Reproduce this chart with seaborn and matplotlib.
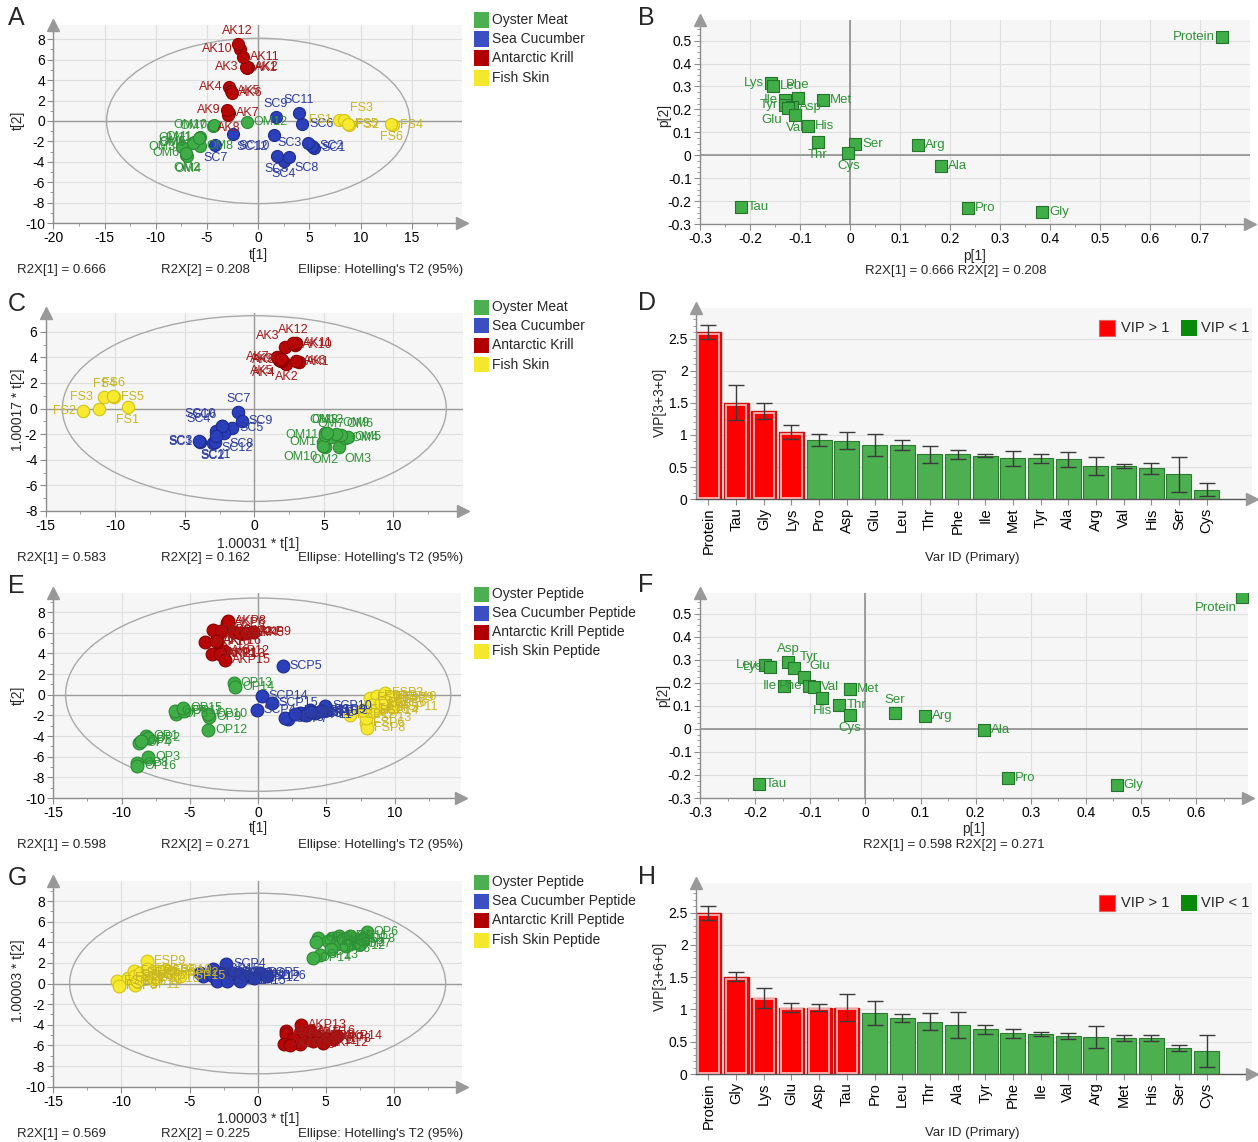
import numpy as np
import pandas as pd
import matplotlib
matplotlib.use('Agg')
import matplotlib.pyplot as plt
import seaborn as sns
from matplotlib.patches import Ellipse, Rectangle
from matplotlib.ticker import MultipleLocator, FuncFormatter, FixedLocator

# ---------------- data ----------------
# Panel A (scores, raw materials)
A_OM_names = [f'OM{i}' for i in range(1, 13)]
A_OM_t1 = [-5.7, -7.0, -7.4, -6.9, -6.3, -7.0, -4.4, -5.7, -6.4, -4.3, -5.8, -1.1]
A_OM_t2 = [-1.6, -3.3, -2.6, -3.4, -2.1, -3.1, -0.5, -2.5, -2.2, -0.4, -1.7, -0.15]
A_SC_names = [f'SC{i}' for i in range(1, 13)]
A_SC_t1 = [5.5, 5.3, 4.9, 2.5, 1.8, 4.3, -4.2, 3.0, 1.7, -2.5, 4.0, 1.5]
A_SC_t2 = [-2.7, -2.5, -2.2, -3.9, -3.4, -0.3, -2.4, -3.5, 0.4, -1.3, 0.8, -1.4]
A_AK_names = [f'AK{i}' for i in range(1, 13)]
A_AK_t1 = [-1.1, -1.0, -1.2, -2.8, -2.7, -2.6, -2.8, -2.9, -3.0, -1.8, -1.5, -2.0]
A_AK_t2 = [5.2, 5.3, 5.3, 3.3, 2.9, 2.7, 0.8, 0.6, 1.1, 7.0, 6.3, 7.5]
A_FS_names = [f'FS{i}' for i in range(1, 7)]
A_FS_t1 = [7.9, 8.9, 8.4, 13.2, 8.8, 13.0]
A_FS_t2 = [0.1, -0.4, 0.1, -0.4, -0.3, -0.3]

# Panel B (loadings, raw materials)
B_vars = ['Protein', 'Lys', 'Leu', 'Phe', 'Ile', 'Tyr', 'Asp', 'Glu', 'Val', 'Met',
          'His', 'Thr', 'Ser', 'Cys', 'Arg', 'Ala', 'Tau', 'Pro', 'Gly']
B_p1 = [0.744, -0.158, -0.154, -0.104, -0.13, -0.13, -0.116, -0.124, -0.11, -0.054,
        -0.084, -0.064, 0.01, -0.003, 0.136, 0.182, -0.218, 0.236, 0.384]
B_p2 = [0.517, 0.316, 0.304, 0.25, 0.243, 0.221, 0.211, 0.205, 0.177, 0.243,
        0.129, 0.058, 0.050, 0.010, 0.043, -0.045, -0.227, -0.231, -0.249]

# Panel C (OPLS-DA scores, raw materials)
C_OM_t1 = [4.95, 5.1, 6.05, 6.5, 6.7, 6.2, 5.5, 5.05, 5.9, 4.95, 5.1, 5.2]
C_OM_t2 = [-2.6, -3.0, -3.0, -2.3, -2.25, -2.1, -2.2, -1.9, -2.0, -2.9, -2.1, -1.9]
C_SC_t1 = [-3.9, -3.0, -3.95, -2.75, -1.6, -2.3, -1.15, -2.2, -0.9, -2.35, -2.8, -2.75]
C_SC_t2 = [-2.6, -2.7, -2.55, -1.75, -1.55, -1.4, -0.3, -1.9, -1.0, -1.35, -2.6, -2.15]
C_AK_t1 = [3.2, 2.3, 2.2, 1.9, 1.8, 3.0, 1.6, 2.0, 1.9, 2.9, 3.0, 2.8]
C_AK_t2 = [3.6, 3.5, 4.8, 3.7, 3.8, 3.7, 4.05, 3.8, 3.9, 5.0, 5.1, 5.1]
C_FS_t1 = [-9.1, -12.3, -11.2, -10.8, -10.1, -10.15]
C_FS_t2 = [0.1, -0.2, 0.0, 0.9, 0.9, 0.95]

# Panel D (VIP, raw materials)
D_vars = ['Protein', 'Tau', 'Gly', 'Lys', 'Pro', 'Asp', 'Glu', 'Leu', 'Thr', 'Phe',
          'Ile', 'Met', 'Tyr', 'Ala', 'Arg', 'Val', 'His', 'Ser', 'Cys']
D_vip = [2.60, 1.50, 1.37, 1.05, 0.92, 0.91, 0.85, 0.84, 0.70, 0.70,
         0.68, 0.64, 0.64, 0.62, 0.52, 0.52, 0.48, 0.39, 0.15]
D_ci = [0.11, 0.27, 0.125, 0.105, 0.095, 0.135, 0.17, 0.08, 0.13, 0.07,
        0.03, 0.115, 0.07, 0.12, 0.14, 0.035, 0.09, 0.275, 0.105]

# Panel E (scores, peptides)
E_OP_names = [f'OP{i}' for i in range(1, 17)]
E_OP_t1 = [-8.2, -8.05, -8.05, -8.7, -6.0, -8.6, -6.1, -8.9, -3.6, -3.65, -5.4, -3.65, -1.8, -1.7, -5.5, -8.85]
E_OP_t2 = [-4.0, -4.2, -6.0, -4.7, -1.9, -4.5, -1.6, -6.6, -2.2, -1.9, -1.6, -3.4, 1.1, 0.7, -1.3, -6.9]
E_SCP_names = [f'SCP{i}' for i in range(1, 17)]
E_SCP_t1 = [3.8, 4.15, 3.3, -0.1, 1.8, 3.05, 2.2, 1.95, 5.0, 4.9, 3.5, 4.6, 2.7, 0.25, 1.0, 3.9]
E_SCP_t2 = [-1.45, -1.8, -1.9, -1.45, 2.8, -1.75, -2.4, -2.25, -1.45, -1.05, -2.0, -1.6, -1.9, -0.15, -0.8, -1.7]
E_AKP_names = [f'AKP{i}' for i in range(1, 17)]
E_AKP_t1 = [-2.9, -1.8, -3.3, -1.3, -0.9, -2.3, -3.05, -2.2, -0.4, -3.9, -3.4, -2.5, -2.8, -2.7, -2.45, -3.1]
E_AKP_t2 = [4.0, 6.1, 6.3, 6.0, 6.0, 6.9, 5.2, 7.1, 6.1, 5.1, 3.95, 4.2, 3.95, 6.2, 3.4, 5.2]
E_FSP_names = [f'FSP{i}' for i in range(1, 17)]
E_FSP_t1 = [8.2, 8.7, 9.3, 8.3, 8.9, 7.9, 9.5, 7.95, 10.0, 9.7, 9.9, 6.7, 7.9, 8.4, 7.7, 9.0]
E_FSP_t2 = [-0.3, -0.15, 0.15, -1.0, -1.3, -2.7, -0.5, -3.2, -0.3, -0.2, -1.2, -1.95, -2.25, -1.6, -1.45, -0.8]

# Panel F (loadings, peptides)
F_vars = ['Protein', 'Leu', 'Lys', 'Asp', 'Tyr', 'Glu', 'Ile', 'Phe', 'Val', 'His',
          'Met', 'Thr', 'Cys', 'Ser', 'Arg', 'Ala', 'Pro', 'Gly', 'Tau']
F_p1 = [0.683, -0.182, -0.173, -0.14, -0.129, -0.111, -0.148, -0.102, -0.094, -0.078,
        -0.028, -0.047, -0.028, 0.053, 0.108, 0.216, 0.258, 0.456, -0.193]
F_p2 = [0.573, 0.279, 0.27, 0.29, 0.264, 0.224, 0.186, 0.187, 0.18, 0.134,
        0.175, 0.104, 0.059, 0.071, 0.056, -0.006, -0.213, -0.242, -0.238]

# Panel G (OPLS-DA scores, peptides)
G_OP_t1 = [4.45, 7.0, 5.55, 6.0, 5.8, 8.0, 7.5, 7.75, 6.3, 5.2, 6.75, 6.5, 4.55, 4.05, 4.3, 5.4]
G_OP_t2 = [4.45, 3.95, 4.45, 4.6, 3.8, 4.95, 3.8, 4.3, 4.3, 4.1, 4.6, 3.65, 2.8, 2.5, 4.0, 3.3]
G_SCP_t1 = [-4.2, -4.0, -3.25, -2.3, 0.2, 0.65, -2.75, -2.25, -1.8, -1.3, -0.8, -0.3, -3.0, -2.25, -1.3, -3.25]
G_SCP_t2 = [1.05, 0.7, 0.7, 1.85, 1.05, 0.7, 1.05, 0.9, 1.05, 0.9, 0.7, 0.55, 0.25, 0.25, 0.25, 1.4]
G_AKP_t1 = [2.1, 2.1, 1.9, 3.1, 3.6, 4.3, 5.05, 5.55, 3.1, 2.6, 4.05, 4.8, 3.2, 5.8, 2.35, 3.85]
G_AKP_t2 = [-4.6, -4.9, -5.9, -4.8, -5.1, -5.1, -5.25, -5.4, -5.9, -5.4, -5.55, -5.75, -4.05, -5.1, -6.0, -4.6]
G_FSP_t1 = [-10.3, -9.5, -10.2, -9.1, -9.0, -7.4, -7.9, -8.6, -8.1, -6.7, -9.0, -6.2, -8.85, -8.1, -5.7, -7.6]
G_FSP_t2 = [0.25, 0.55, -0.25, 1.2, 0.7, 1.2, 0.7, 1.0, 2.2, 1.35, -0.1, 1.05, 0.25, 1.4, 0.7, 0.4]

# Panel H (VIP, peptides)
H_vars = ['Protein', 'Gly', 'Lys', 'Glu', 'Asp', 'Tau', 'Pro', 'Leu', 'Thr', 'Ala',
          'Tyr', 'Phe', 'Ile', 'Val', 'Arg', 'Met', 'His', 'Ser', 'Cys']
H_vip = [2.49, 1.51, 1.185, 1.03, 1.03, 1.03, 0.94, 0.87, 0.81, 0.76,
         0.69, 0.63, 0.62, 0.59, 0.58, 0.56, 0.56, 0.40, 0.36]
H_ci = [0.11, 0.07, 0.155, 0.07, 0.055, 0.21, 0.185, 0.06, 0.13, 0.195,
        0.075, 0.075, 0.035, 0.045, 0.17, 0.05, 0.05, 0.045, 0.245]

LEG_RAW = ['Oyster Meat', 'Sea Cucumber', 'Antarctic Krill', 'Fish Skin']
LEG_PEP = ['Oyster Peptide', 'Sea Cucumber Peptide', 'Antarctic Krill Peptide', 'Fish Skin Peptide']

# ---------------- style ----------------
PT_FILL = {'g': '#3fae47', 'b': '#2b3fbd', 'r': '#b80606', 'y': '#f7ea2e'}
PT_EDGE = {'g': '#2b8a33', 'b': '#1e2c8c', 'r': '#8c0000', 'y': '#d2c21a'}
PT_TEXT = {'g': '#2f9237', 'b': '#2b3b9e', 'r': '#a31818', 'y': '#c9b624'}
LEG_COL = ['#4caf50', '#3b4fc2', '#b00000', '#f4e82c']
AXG = '#8c8c8c'

sns.set_theme(style='white')
plt.rcParams['font.family'] = ['Liberation Sans', 'DejaVu Sans']
plt.rcParams['axes.unicode_minus'] = False

W, H = 1258, 1142
fig = plt.figure(figsize=(W / 100, H / 100), dpi=100, facecolor='white')


def ax_px(l, t, r, b):
    return fig.add_axes([l / W, 1 - b / H, (r - l) / W, (b - t) / H])


def ftext(x, y, s, **kw):
    kw.setdefault('fontsize', 9.5)
    kw.setdefault('va', 'center')
    fig.text(x / W, 1 - y / H, s, **kw)


def numfmt(v, p):
    if abs(v) < 1e-9:
        return '0'
    return '%g' % round(v, 6)


def tick_values(lo, hi, step):
    # major ticks from the lower limit up to (but not at) the arrow end of the axis
    n = int(np.floor((hi - 0.5 * step - lo) / step + 1e-9))
    return [round(lo + i * step, 6) for i in range(n + 1)]


def base_style(ax, grid_x=True):
    ax.set_facecolor('#f6f6f6')
    for s in ('top', 'right'):
        ax.spines[s].set_visible(False)
    for s in ('left', 'bottom'):
        ax.spines[s].set_color(AXG)
        ax.spines[s].set_linewidth(1.0)
    ax.grid(True, which='major', color='#dfdfdf', lw=0.8)
    if not grid_x:
        ax.grid(False, axis='x')
    ax.set_axisbelow(True)
    ax.tick_params(which='both', bottom=True, left=True, direction='out')
    ax.tick_params(which='major', length=4, width=0.8, color=AXG, labelsize=10,
                   labelcolor='black', pad=2)
    ax.tick_params(which='minor', length=2.5, width=0.6, color=AXG)
    ax.plot([1], [0], marker='>', ms=8, color='#999999', transform=ax.transAxes, clip_on=False, zorder=6)
    ax.plot([0], [1], marker='^', ms=8, color='#999999', transform=ax.transAxes, clip_on=False, zorder=6)


def set_ticks(ax, xlim, ylim, xstep, ystep, xminor, yminor):
    ax.set_xlim(xlim)
    ax.set_ylim(ylim)
    ax.xaxis.set_major_locator(FixedLocator(tick_values(xlim[0], xlim[1], xstep)))
    ax.yaxis.set_major_locator(FixedLocator(tick_values(ylim[0], ylim[1], ystep)))
    ax.xaxis.set_minor_locator(MultipleLocator(xminor))
    ax.yaxis.set_minor_locator(MultipleLocator(yminor))
    ax.xaxis.set_major_formatter(FuncFormatter(numfmt))
    ax.yaxis.set_major_formatter(FuncFormatter(numfmt))
    ax.set_xlabel('')
    ax.set_ylabel('')


OFF = {'r': (5, 0, 'left', 'center'), 'l': (-5, 0, 'right', 'center'),
       't': (0, 5, 'center', 'bottom'), 'b': (0, -5, 'center', 'top'),
       'tr': (4, 4, 'left', 'bottom'), 'tl': (-4, 4, 'right', 'bottom'),
       'br': (4, -4, 'left', 'top'), 'bl': (-4, -4, 'right', 'top')}


def place(ax, name, x, y, where, color, fs):
    dx, dy, ha, va = OFF[where]
    ax.annotate(name, (x, y), xytext=(dx, dy), textcoords='offset points',
                ha=ha, va=va, fontsize=fs, color=color, zorder=5)


def score_panel(box, groups, xlim, ylim, xstep, ystep, xminor, yminor, ell, lpos, s=80):
    ax = ax_px(*box)
    base_style(ax)
    ax.axhline(0, color='#9a9a9a', lw=1.0, zorder=1)
    ax.axvline(0, color='#9a9a9a', lw=1.0, zorder=1)
    ax.add_patch(Ellipse((0, 0), 2 * ell[0], 2 * ell[1], fill=False, ec='#a9a9a9', lw=1.0, zorder=2))
    for key, names, xs, ys in groups:
        sns.scatterplot(x=xs, y=ys, color=PT_FILL[key], edgecolor=PT_EDGE[key], linewidth=0.8,
                        s=s, ax=ax, zorder=3, legend=False)
    for key, names, xs, ys in groups:
        for n, x, y in zip(names, xs, ys):
            place(ax, n, x, y, lpos.get(n, 'r'), PT_TEXT[key], 9)
    set_ticks(ax, xlim, ylim, xstep, ystep, xminor, yminor)
    return ax


def loading_panel(box, names, xs, ys, xlim, ylim, lpos):
    ax = ax_px(*box)
    base_style(ax)
    ax.axhline(0, color='#8f8f8f', lw=1.2, zorder=1)
    ax.axvline(0, color='#8f8f8f', lw=1.2, zorder=1)
    sns.scatterplot(x=xs, y=ys, marker='s', color='#3fae47', edgecolor='#23752a', linewidth=0.8,
                    s=75, ax=ax, zorder=3, legend=False)
    for n, x, y in zip(names, xs, ys):
        place(ax, n, x, y, lpos.get(n, 'r'), '#2f9237', 9.5)
    set_ticks(ax, xlim, ylim, 0.1, 0.1, 0.05, 0.025)
    return ax


def vip_panel(box, names, vip, ci, ytop):
    ax = ax_px(*box)
    base_style(ax, grid_x=False)
    cols = ['#ff0000' if v > 1 else '#4caf50' for v in vip]
    sns.barplot(x=names, y=vip, hue=names, palette=cols, legend=False, width=0.9,
                ax=ax, saturation=1, zorder=2)
    for p, v in zip(ax.patches, vip):
        if v > 1:
            p.set_edgecolor('#cc1010')
            p.set_linewidth(1.0)
            ax.add_patch(Rectangle((p.get_x() + 0.08, 0.02), p.get_width() - 0.16, p.get_height() - 0.05,
                                   fill=False, ec='#f7b3b3', lw=1.3, zorder=3))
        else:
            p.set_edgecolor('#2e7a32')
            p.set_linewidth(0.8)
    ax.errorbar(np.arange(len(names)), vip, yerr=ci, fmt='none', ecolor='#3a3a3a',
                elinewidth=1.0, capsize=6, capthick=1.0, zorder=4)
    ax.set_xlim(-0.45, 19.64)
    ax.set_ylim(0, ytop)
    ax.spines['bottom'].set_color('#555555')
    ax.yaxis.set_major_locator(FixedLocator(tick_values(0, ytop, 0.5)))
    ax.yaxis.set_minor_locator(MultipleLocator(0.1))
    ax.yaxis.set_major_formatter(FuncFormatter(numfmt))
    ax.tick_params(axis='x', which='minor', bottom=False)
    ax.tick_params(axis='x', labelrotation=90, labelsize=10.5, length=4)
    ax.set_xlabel('')
    ax.set_ylabel('')
    return ax


def legend_block(x, ys, labels):
    for y, lab, c in zip(ys, labels, LEG_COL):
        fig.add_artist(Rectangle((x / W, 1 - (y + 7.5) / H), 15 / W, 15 / H,
                                 transform=fig.transFigure, fc=c, ec='none'))
        ftext(x + 18, y, lab, fontsize=10)


def vip_legend(y):
    fig.add_artist(Rectangle((1099 / W, 1 - (y + 8) / H), 16 / W, 16 / H,
                             transform=fig.transFigure, fc='#ff0000', ec='#e06060', lw=0.8))
    ftext(1121, y, 'VIP > 1', fontsize=10.5)
    fig.add_artist(Rectangle((1181 / W, 1 - (y + 8) / H), 16 / W, 16 / H,
                             transform=fig.transFigure, fc='#0a8a0a', ec='none'))
    ftext(1201, y, 'VIP < 1', fontsize=10.5)


# ---------------- panel A ----------------
posA = {'AK12': 't', 'AK10': 'l', 'AK11': 'r', 'AK3': 'l', 'AK2': 'r', 'AK1': 'r', 'AK4': 'l',
        'AK5': 'r', 'AK6': 'r', 'AK9': 'l', 'AK7': 'r', 'AK8': 'b',
        'OM12': 'r', 'OM10': 'l', 'OM7': 'l', 'OM1': 'l', 'OM11': 'l', 'OM3': 'l', 'OM6': 'l',
        'OM2': 'b', 'OM4': 'b', 'OM8': 'r', 'OM5': 'l', 'OM9': 'l',
        'SC9': 't', 'SC11': 't', 'SC6': 'r', 'SC3': 'l', 'SC1': 'r', 'SC2': 'r', 'SC5': 'b',
        'SC4': 'b', 'SC8': 'br', 'SC7': 'b', 'SC10': 'br', 'SC12': 'bl',
        'FS3': 'tr', 'FS1': 'l', 'FS2': 'r', 'FS5': 'r', 'FS4': 'r', 'FS6': 'b'}
score_panel((53.3, 25, 462, 223),
            [('g', A_OM_names, A_OM_t1, A_OM_t2), ('b', A_SC_names, A_SC_t1, A_SC_t2),
             ('r', A_AK_names, A_AK_t1, A_AK_t2), ('y', A_FS_names, A_FS_t1, A_FS_t2)],
            (-20, 19.9), (-10, 9.4), 5, 2, 2.5, 1, (14.8, 8.1), posA, s=75)

# ---------------- panel B ----------------
posB = {'Protein': 'l', 'Lys': 'l', 'Leu': 'r', 'Phe': 't', 'Ile': 'l', 'Tyr': 'l', 'Asp': 'r',
        'Glu': 'bl', 'Val': 'b', 'Thr': 'b', 'Cys': 'b'}
loading_panel((700, 20, 1250, 224), B_vars, B_p1, B_p2, (-0.3, 0.8), (-0.3, 0.59), posB)

# ---------------- panel C ----------------
posC = {'OM1': 'l', 'OM2': 'b', 'OM3': 'br', 'OM4': 'r', 'OM5': 'r', 'OM6': 'tr', 'OM7': 't',
        'OM8': 't', 'OM9': 'tr', 'OM10': 'bl', 'OM11': 'l', 'OM12': 't',
        'SC1': 'l', 'SC3': 'l', 'SC2': 'b', 'SC11': 'b', 'SC4': 'tl', 'SC6': 'tl', 'SC10': 'tl',
        'SC5': 'r', 'SC9': 'r', 'SC7': 't', 'SC8': 'br', 'SC12': 'br',
        'AK1': 'r', 'AK2': 'b', 'AK3': 'tl', 'AK4': 'bl', 'AK5': 'bl', 'AK6': 'r', 'AK7': 'l',
        'AK8': 'l', 'AK9': 'l', 'AK10': 'r', 'AK11': 'r', 'AK12': 't',
        'FS1': 'b', 'FS2': 'l', 'FS3': 'tl', 'FS4': 't', 'FS5': 'r', 'FS6': 't'}
score_panel((45.7, 313.3, 463, 511),
            [('g', A_OM_names, C_OM_t1, C_OM_t2), ('b', A_SC_names, C_SC_t1, C_SC_t2),
             ('r', A_AK_names, C_AK_t1, C_AK_t2), ('y', A_FS_names, C_FS_t1, C_FS_t2)],
            (-15, 15), (-8, 7.44), 5, 2, 2.5, 1, (13.8, 7.25), posC, s=80)

# ---------------- panel D ----------------
vip_panel((696, 308.3, 1252, 499.3), D_vars, D_vip, D_ci, 2.97)

# ---------------- panel E ----------------
score_panel((53.3, 593, 461, 798),
            [('g', E_OP_names, E_OP_t1, E_OP_t2), ('b', E_SCP_names, E_SCP_t1, E_SCP_t2),
             ('r', E_AKP_names, E_AKP_t1, E_AKP_t2), ('y', E_FSP_names, E_FSP_t1, E_FSP_t2)],
            (-15, 14.85), (-10, 9.84), 5, 2, 2.5, 1, (14.1, 9.35), {}, s=85)

# ---------------- panel F ----------------
posF = {'Protein': 'bl', 'Leu': 'l', 'Lys': 'l', 'Asp': 't', 'Tyr': 'tr', 'Glu': 'tr',
        'Ile': 'l', 'Phe': 'l', 'His': 'b', 'Cys': 'b', 'Ser': 't'}
loading_panel((700, 593, 1248, 798), F_vars, F_p1, F_p2, (-0.3, 0.694), (-0.3, 0.59), posF)

# ---------------- panel G ----------------
score_panel((53.3, 881, 462, 1086.7),
            [('g', E_OP_names, G_OP_t1, G_OP_t2), ('b', E_SCP_names, G_SCP_t1, G_SCP_t2),
             ('r', E_AKP_names, G_AKP_t1, G_AKP_t2), ('y', E_FSP_names, G_FSP_t1, G_FSP_t2)],
            (-15, 15), (-10, 9.94), 5, 2, 2.5, 1, (13.8, 8.75), {}, s=85)

# ---------------- panel H ----------------
vip_panel((696, 883, 1252, 1074), H_vars, H_vip, H_ci, 2.96)

# ---------------- texts ----------------
for letter, x, y in [('A', 8, 18), ('B', 638, 18), ('C', 8, 304), ('D', 638, 303),
                     ('E', 8, 586), ('F', 638, 585), ('G', 8, 878), ('H', 638, 877)]:
    ftext(x, y, letter, fontsize=18)

# score panel captions
for ylab, xlab, r1, r2, ytx, yr, ycap in [
        ('t[2]', 't[1]', '0.666', '0.208', 120, 255, 270),
        ('1.00017 * t[2]', '1.00031 * t[1]', '0.583', '0.162', 410, 544, 558),
        ('t[2]', 't[1]', '0.598', '0.271', 695, 828, 845),
        ('1.00003 * t[2]', '1.00003 * t[1]', '0.569', '0.225', 981, 1119, 1134)]:
    ftext(18, ytx, ylab, rotation=90, ha='center', fontsize=10)
    ftext(258, yr, xlab, ha='center', fontsize=10)
    ftext(17, ycap, f'R2X[1] = {r1}', fontsize=9.5)
    ftext(161, ycap, f'R2X[2] = {r2}', fontsize=9.5)
    ftext(463, ycap, "Ellipse: Hotelling's T2 (95%)", ha='right', fontsize=9.5)

# loading captions
ftext(664, 115, 'p[2]', rotation=90, ha='center', fontsize=10)
ftext(975, 256, 'p[1]', ha='center', fontsize=10)
ftext(956, 271, 'R2X[1] = 0.666 R2X[2] = 0.208', ha='center', fontsize=9.5)
ftext(663, 695, 'p[2]', rotation=90, ha='center', fontsize=10)
ftext(974, 829, 'p[1]', ha='center', fontsize=10)
ftext(954, 845, 'R2X[1] = 0.598 R2X[2] = 0.271', ha='center', fontsize=9.5)

# VIP captions
ftext(660, 402, 'VIP[3+3+0]', rotation=90, ha='center', fontsize=10)
ftext(972, 558, 'Var ID (Primary)', ha='center', fontsize=9.5)
vip_legend(328)
ftext(660, 976, 'VIP[3+6+0]', rotation=90, ha='center', fontsize=10)
ftext(972, 1133, 'Var ID (Primary)', ha='center', fontsize=9.5)
vip_legend(903)

# group legends
legend_block(474, [20, 39, 58, 78], LEG_RAW)
legend_block(474, [307, 326, 345, 365], LEG_RAW)
legend_block(474, [594, 613, 632, 651], LEG_PEP)
legend_block(474, [882, 901, 920, 940], LEG_PEP)

fig.savefig('out.png', dpi=100, facecolor='white')
